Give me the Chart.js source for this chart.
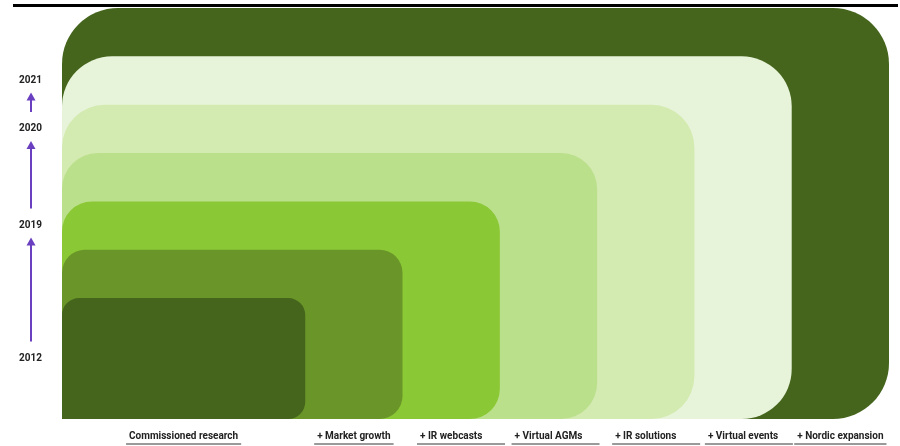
<!DOCTYPE html>
<html>
<head>
<meta charset="utf-8">
<script src="https://cdn.jsdelivr.net/npm/chart.js@4"></script>
<style>
    html, body { margin: 0; padding: 0; background: #ffffff; }
    #wrap { width: 900px; height: 446px; position: relative; }
</style>
</head>
<body>
<div id="wrap"><canvas id="stages"></canvas></div>
<script>
// Each stage adds a step to the right and a step upwards.
const stageLabels = ['Commissioned research', '+ Market growth', '+ IR webcasts', '+ Virtual AGMs', '+ IR solutions', '+ Virtual events', '+ Nordic expansion'];
const stageWidths = [2.5, 3.5, 4.5, 5.5, 6.5, 7.5, 8.5];
const stageHeights = [2.5, 3.5, 4.5, 5.5, 6.5, 7.5, 8.5];
const stageColors = ['#45651d', '#6a9629', '#8bc836', '#bbe08b', '#d3eab0', '#e8f4da', '#45651d'];

// Year reached, and the stage it lines up with.
const yearLabels = ['2012', '2019', '2020', '2021'];
const yearStages = [0, 2, 4, 5];

const arrowColor = '#6a3fc0';
const labelFont = {family: 'Roboto', size: 10, weight: 'bold'};

// middle of the band a stage adds (on either axis)
function bandMiddle(values, i) {
    let prev = i > 0 ? values[i - 1] : 0;
    return (prev + values[i]) / 2;
}

function pixelWidth(chart, i) {
    let x = chart.scales.x;
    return x.getPixelForValue(stageWidths[i]) - x.getPixelForValue(0);
}

// Underlines under the stage names, arrows between the years, rule on top.
const decorations = {
    id: 'decorations',
    afterDraw(chart) {
        let ctx = chart.ctx;
        let x = chart.scales.x;
        let y = chart.scales.y;

        ctx.save();
        ctx.fillStyle = '#000000';
        ctx.fillRect(13, 4, 885, 3);

        ctx.font = `${labelFont.weight} ${labelFont.size}px ${labelFont.family}`;
        ctx.fillStyle = '#9a9a9a';
        x.ticks.forEach((tick, i) => {
            let textW = ctx.measureText(stageLabels[i]).width;
            let lineW = i < 2 ? textW + 6 : Math.max(textW + 6, 88);
            let cx = x.getPixelForValue(tick.value);
            ctx.fillRect(cx - textW / 2 - 3, 443, lineW, 2);
        });

        ctx.strokeStyle = arrowColor;
        ctx.fillStyle = arrowColor;
        ctx.lineWidth = 2;
        let ax = 31;
        for (let i = 1; i < yearLabels.length; i++) {
            let low = y.getPixelForValue(y.ticks[i - 1].value);
            let high = y.getPixelForValue(y.ticks[i].value);
            let tip = high + 12;
            let tail = low - 17;
            ctx.beginPath();
            ctx.moveTo(ax, tail);
            ctx.lineTo(ax, tip + 6);
            ctx.stroke();
            ctx.beginPath();
            ctx.moveTo(ax, tip);
            ctx.lineTo(ax - 4.5, tip + 8);
            ctx.lineTo(ax + 4.5, tip + 8);
            ctx.closePath();
            ctx.fill();
        }
        ctx.restore();
    }
};

let stagesChart = new Chart(document.getElementById('stages'), {
    type: 'bar',
    data: {
        datasets: stageLabels.map((label, i) => ({
            label: label,
            data: [{x: stageWidths[i] / 2, y: stageHeights[i]}],
            backgroundColor: stageColors[i],
            borderWidth: 0,
            borderSkipped: false,
            inflateAmount: 0,
            grouped: false,
            barThickness: (ctx) => pixelWidth(ctx.chart, i),
            borderRadius: (ctx) => {
                let r = Math.round(pixelWidth(ctx.chart, i) * 0.068);
                return {topLeft: r, topRight: r, bottomRight: r, bottomLeft: 0};
            }
        }))
    },
    options: {
        responsive: true,
        maintainAspectRatio: false,
        animation: false,
        layout: {
            padding: {top: 8, right: 11, left: 0, bottom: 0}
        },
        plugins: {
            legend: {display: false},
            tooltip: {enabled: false}
        },
        scales: {
            x: {
                type: 'linear',
                min: 0,
                max: 8.5,
                offset: false,
                grid: {display: false, drawTicks: false},
                border: {display: false},
                afterBuildTicks: (scale) => {
                    scale.ticks = stageWidths.map((w, i) => ({value: bandMiddle(stageWidths, i)}));
                },
                afterFit: (scale) => { scale.height = 27; },
                ticks: {
                    autoSkip: false,
                    maxRotation: 0,
                    padding: 11,
                    color: '#222222',
                    font: labelFont,
                    callback: (value, index) => stageLabels[index]
                }
            },
            y: {
                type: 'linear',
                min: 0,
                max: 8.5,
                // tick marks stay hidden; their length only spaces the year labels
                grid: {display: false, drawTicks: true, tickLength: 20},
                border: {display: false},
                afterBuildTicks: (scale) => {
                    scale.ticks = yearStages.map((s) => ({value: bandMiddle(stageHeights, s)}));
                },
                afterFit: (scale) => { scale.width = 62; },
                ticks: {
                    autoSkip: false,
                    crossAlign: 'center',
                    padding: 0,
                    color: '#222222',
                    font: labelFont,
                    callback: (value, index) => yearLabels[index]
                }
            }
        }
    },
    plugins: [decorations]
});
</script>
</body>
</html>
